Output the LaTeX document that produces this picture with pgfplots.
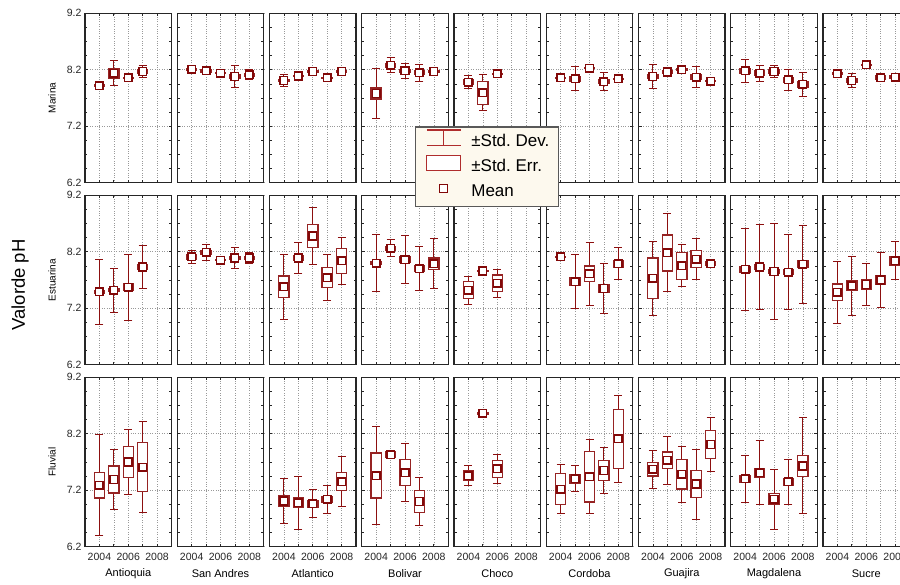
\documentclass[border=0pt]{standalone}
\usepackage{pgfplots}
\pgfplotsset{compat=1.18}
\usepackage{pgfplotstable}
\usepackage{fontspec}
\setmainfont{Liberation Sans}

\definecolor{whiskred}{RGB}{140,15,15}
\definecolor{boxred}{RGB}{150,35,35}
\definecolor{meanred}{RGB}{130,8,8}
\definecolor{legred}{RGB}{175,45,45}
\definecolor{legfill}{RGB}{253,249,238}

% ---------------- data: year, mean, std. error, std. dev. ----------------
% Marina
\pgfplotstableread{
x m se sd
2004 7.92 0.02 0.03
2005 8.14 0.10 0.22
2006 8.06 0.02 0.03
2007 8.17 0.04 0.10
}\MarA
\pgfplotstableread{
x m se sd
2004 8.21 0.03 0.06
2005 8.18 0.03 0.05
2006 8.14 0.02 0.03
2007 8.08 0.05 0.19
2008 8.11 0.04 0.09
}\MarS
\pgfplotstableread{
x m se sd
2004 8.01 0.03 0.10
2005 8.09 0.02 0.03
2006 8.17 0.02 0.03
2007 8.06 0.02 0.03
2008 8.17 0.02 0.03
}\MarT
\pgfplotstableread{
x m se sd
2004 7.78 0.11 0.45
2005 8.28 0.04 0.13
2006 8.18 0.04 0.13
2007 8.15 0.04 0.15
2008 8.17 0.03 0.07
}\MarB
\pgfplotstableread{
x m se sd
2004 7.98 0.05 0.12
2005 7.79 0.21 0.32
2006 8.13 0.02 0.03
}\MarC
\pgfplotstableread{
x m se sd
2004 8.06 0.02 0.03
2005 8.04 0.05 0.21
2006 8.23 0.02 0.03
2007 7.99 0.05 0.16
2008 8.04 0.02 0.03
}\MarD
\pgfplotstableread{
x m se sd
2004 8.08 0.05 0.22
2005 8.16 0.03 0.05
2006 8.20 0.03 0.05
2007 8.07 0.05 0.19
2008 8.00 0.02 0.03
}\MarG
\pgfplotstableread{
x m se sd
2004 8.18 0.06 0.21
2005 8.14 0.05 0.14
2006 8.17 0.04 0.10
2007 8.02 0.05 0.18
2008 7.94 0.06 0.21
}\MarM
\pgfplotstableread{
x m se sd
2004 8.13 0.03 0.05
2005 8.01 0.05 0.13
2006 8.29 0.02 0.03
2007 8.06 0.04 0.06
2008 8.07 0.04 0.06
}\MarU
% Estuarina
\pgfplotstableread{
x m se sd
2004 7.49 0.04 0.58
2005 7.52 0.04 0.39
2006 7.57 0.07 0.58
2007 7.93 0.06 0.38
}\EstA
\pgfplotstableread{
x m se sd
2004 8.11 0.05 0.12
2005 8.19 0.05 0.14
2006 8.05 0.02 0.03
2007 8.09 0.04 0.18
2008 8.09 0.04 0.10
}\EstS
\pgfplotstableread{
x m se sd
2004 7.58 0.20 0.58
2005 8.09 0.05 0.27
2006 8.48 0.21 0.51
2007 7.74 0.19 0.41
2008 8.04 0.23 0.42
}\EstT
\pgfplotstableread{
x m se sd
2004 8.00 0.03 0.51
2005 8.26 0.05 0.15
2006 8.06 0.06 0.42
2007 7.90 0.06 0.39
2008 7.99 0.11 0.44
}\EstB
\pgfplotstableread{
x m se sd
2004 7.52 0.16 0.25
2005 7.86 0.02 0.03
2006 7.64 0.16 0.25
}\EstC
\pgfplotstableread{
x m se sd
2004 8.11 0.02 0.03
2005 7.67 0.08 0.48
2006 7.81 0.15 0.56
2007 7.55 0.08 0.45
2008 7.99 0.07 0.29
}\EstD
\pgfplotstableread{
x m se sd
2004 7.73 0.37 0.66
2005 8.18 0.33 0.69
2006 7.95 0.25 0.37
2007 8.07 0.16 0.36
2008 7.99 0.04 0.05
}\EstG
\pgfplotstableread{
x m se sd
2004 7.89 0.06 0.73
2005 7.93 0.06 0.76
2006 7.85 0.05 0.85
2007 7.84 0.05 0.67
2008 7.98 0.07 0.69
}\EstM
\pgfplotstableread{
x m se sd
2004 7.48 0.16 0.55
2005 7.60 0.10 0.52
2006 7.62 0.10 0.38
2007 7.70 0.09 0.49
2008 8.04 0.09 0.34
}\EstU
% Fluvial
\pgfplotstableread{
x m se sd
2004 7.29 0.24 0.89
2005 7.39 0.25 0.53
2006 7.70 0.28 0.58
2007 7.61 0.45 0.80
}\FluA
\pgfplotstableread{
x m se sd
2004 7.01 0.10 0.40
2005 6.98 0.10 0.47
2006 6.96 0.07 0.25
2007 7.04 0.06 0.25
2008 7.35 0.17 0.44
}\FluT
\pgfplotstableread{
x m se sd
2004 7.46 0.41 0.86
2005 7.83 0.06 0.07
2006 7.51 0.24 0.51
2007 7.00 0.20 0.42
}\FluB
\pgfplotstableread{
x m se sd
2004 7.46 0.10 0.17
2005 8.56 0.02 0.03
2006 7.58 0.16 0.26
}\FluC
\pgfplotstableread{
x m se sd
2004 7.22 0.29 0.43
2005 7.40 0.09 0.23
2006 7.44 0.46 0.66
2007 7.55 0.19 0.41
2008 8.11 0.53 0.77
}\FluD
\pgfplotstableread{
x m se sd
2004 7.57 0.13 0.34
2005 7.73 0.16 0.43
2006 7.48 0.27 0.49
2007 7.31 0.25 0.62
2008 8.01 0.26 0.47
}\FluG
\pgfplotstableread{
x m se sd
2004 7.40 0.07 0.41
2005 7.51 0.09 0.57
2006 7.04 0.11 0.53
2007 7.35 0.07 0.40
2008 7.63 0.20 0.85
}\FluM

\pgfplotsset{
  panel/.style={
    scale only axis, width=86.5pt, height=169.4pt,
    xmin=2003, xmax=2009, ymin=6.2, ymax=9.2,
    xtick={2004,2005,2006,2007,2008}, xticklabels={},
    ytick={6.2,7.2,8.2,9.2}, yticklabels={},
    minor y tick num=3,
    tick pos=both, tick align=inside,
    major tick length=3pt, minor tick length=2.5pt,
    grid=major, grid style={dotted, black!40, line width=0.6pt},
    axis line style={line width=1.1pt, black!85},
    tick style={black!85, line width=0.7pt},
    tick label style={font=\fontsize{10.5}{12}\selectfont, text=black!85},
    xticklabel style={yshift=-2.5pt},
    /pgf/number format/assume math mode=true,
  },
  firstcol/.style={yticklabels={6.2,7.2,8.2,9.2}, ylabel={#1},
    ylabel style={at={(axis description cs:-0.38,0.5)}, anchor=center,
      font=\fontsize{10}{12}\selectfont}},
  bottomrow/.style={xticklabels={2004,,2006,,2008}, xlabel={#1},
    xlabel style={at={(axis description cs:0.5,-0.161)}, anchor=center,
      font=\fontsize{11}{13}\selectfont}},
}

% #1 column, #2 row, #3 table, #4 options
\newcommand\panel[4]{%
\begin{axis}[panel, at={({85pt+92.25pt*#1},{570.7pt-182pt*#2})}, anchor=north west, #4]
% +- std. dev. whiskers
\addplot[only marks, mark=none,
  error bars/.cd, y dir=both, y explicit,
  error bar style={draw=whiskred, line width=1pt},
  error mark=-, error mark options={rotate=90, draw=whiskred, line width=1pt, mark size=4pt}]
  table[x=x, y=m, y error=sd] {#3};
% +- std. err. box: outline, then white interior
\addplot[only marks, mark=none,
  error bars/.cd, y dir=both, y explicit,
  error bar style={draw=boxred, line width=11.5pt}, error mark=none]
  table[x=x, y=m, y error=se] {#3};
\addplot[only marks, mark=none,
  error bars/.cd, y dir=both, y explicit,
  error bar style={draw=white, line width=9pt}, error mark=none]
  table[x=x, y=m, y error expr={max(\thisrow{se}-0.022,0)}] {#3};
% mean
\addplot[only marks, mark=square*, mark size=3.8pt,
  mark options={fill=white, draw=meanred, line width=1.5pt}] table[x=x, y=m] {#3};
\end{axis}}
\newcommand\emptypanel[3]{%
\begin{axis}[panel, at={({85pt+92.25pt*#1},{570.7pt-182pt*#2})}, anchor=north west, #3]
\end{axis}}

\begin{document}
\begin{tikzpicture}
\useasboundingbox (0pt,0pt) rectangle (900pt,584pt);
\clip (0pt,0pt) rectangle (900pt,584pt);

% row 0: Marina
\panel{0}{0}{\MarA}{firstcol=Marina}
\panel{1}{0}{\MarS}{}
\panel{2}{0}{\MarT}{}
\panel{3}{0}{\MarB}{}
\panel{4}{0}{\MarC}{}
\panel{5}{0}{\MarD}{}
\panel{6}{0}{\MarG}{}
\panel{7}{0}{\MarM}{}
\panel{8}{0}{\MarU}{}
% row 1: Estuarina
\panel{0}{1}{\EstA}{firstcol=Estuarina}
\panel{1}{1}{\EstS}{}
\panel{2}{1}{\EstT}{}
\panel{3}{1}{\EstB}{}
\panel{4}{1}{\EstC}{}
\panel{5}{1}{\EstD}{}
\panel{6}{1}{\EstG}{}
\panel{7}{1}{\EstM}{}
\panel{8}{1}{\EstU}{}
% row 2: Fluvial
\panel{0}{2}{\FluA}{firstcol=Fluvial, bottomrow=Antioquia}
\emptypanel{1}{2}{bottomrow=San Andres}
\panel{2}{2}{\FluT}{bottomrow=Atlantico}
\panel{3}{2}{\FluB}{bottomrow=Bolivar}
\panel{4}{2}{\FluC}{bottomrow=Choco}
\panel{5}{2}{\FluD}{bottomrow=Cordoba}
\panel{6}{2}{\FluG}{bottomrow=Guajira}
\panel{7}{2}{\FluM}{bottomrow=Magdalena}
\emptypanel{8}{2}{bottomrow=Sucre}

\node[rotate=90, font=\fontsize{18.5}{20}\selectfont] at (20pt,299pt) {Valorde pH};

% legend overlay
\begin{axis}[at={(0pt,0pt)}, anchor=south west, scale only axis,
  width=900pt, height=584pt, xmin=0, xmax=900, ymin=0, ymax=584,
  hide axis, clip=false, legend cell align=left,
  legend style={at={(0.4606,0.7837)}, anchor=north west,
    fill=legfill, draw=black!65, line width=1.2pt,
    font=\fontsize{17}{19}\selectfont, inner xsep=5.5pt, inner ysep=2.5pt,
    row sep=1.5pt,
    nodes={inner sep=4pt, text height=12pt, text depth=3.5pt}}]
\addlegendimage{legend image code/.code={
  \draw[draw=legred, line width=1.3pt] (0pt,-4pt)--(34pt,-4pt);
  \draw[draw=legred, line width=1.3pt] (0pt,11.7pt)--(34pt,11.7pt);
  \draw[draw=legred, line width=1.3pt] (17pt,-4pt)--(17pt,11.7pt);
  \path (-5.5pt,0pt) (40pt,0pt);}}
\addlegendentry{±Std.\ Dev.}
\addlegendimage{legend image code/.code={
  \draw[draw=legred, line width=1.1pt, fill=white] (0pt,-3pt) rectangle (34pt,12pt);
  \path (-5.5pt,0pt) (40pt,0pt);}}
\addlegendentry{±Std.\ Err.}
\addlegendimage{legend image code/.code={
  \draw[draw=meanred, line width=1.2pt, fill=white] (13pt,0pt) rectangle (21pt,8pt);
  \path (-5.5pt,0pt) (40pt,0pt);}}
\addlegendentry{Mean}
\end{axis}
\end{tikzpicture}
\end{document}
